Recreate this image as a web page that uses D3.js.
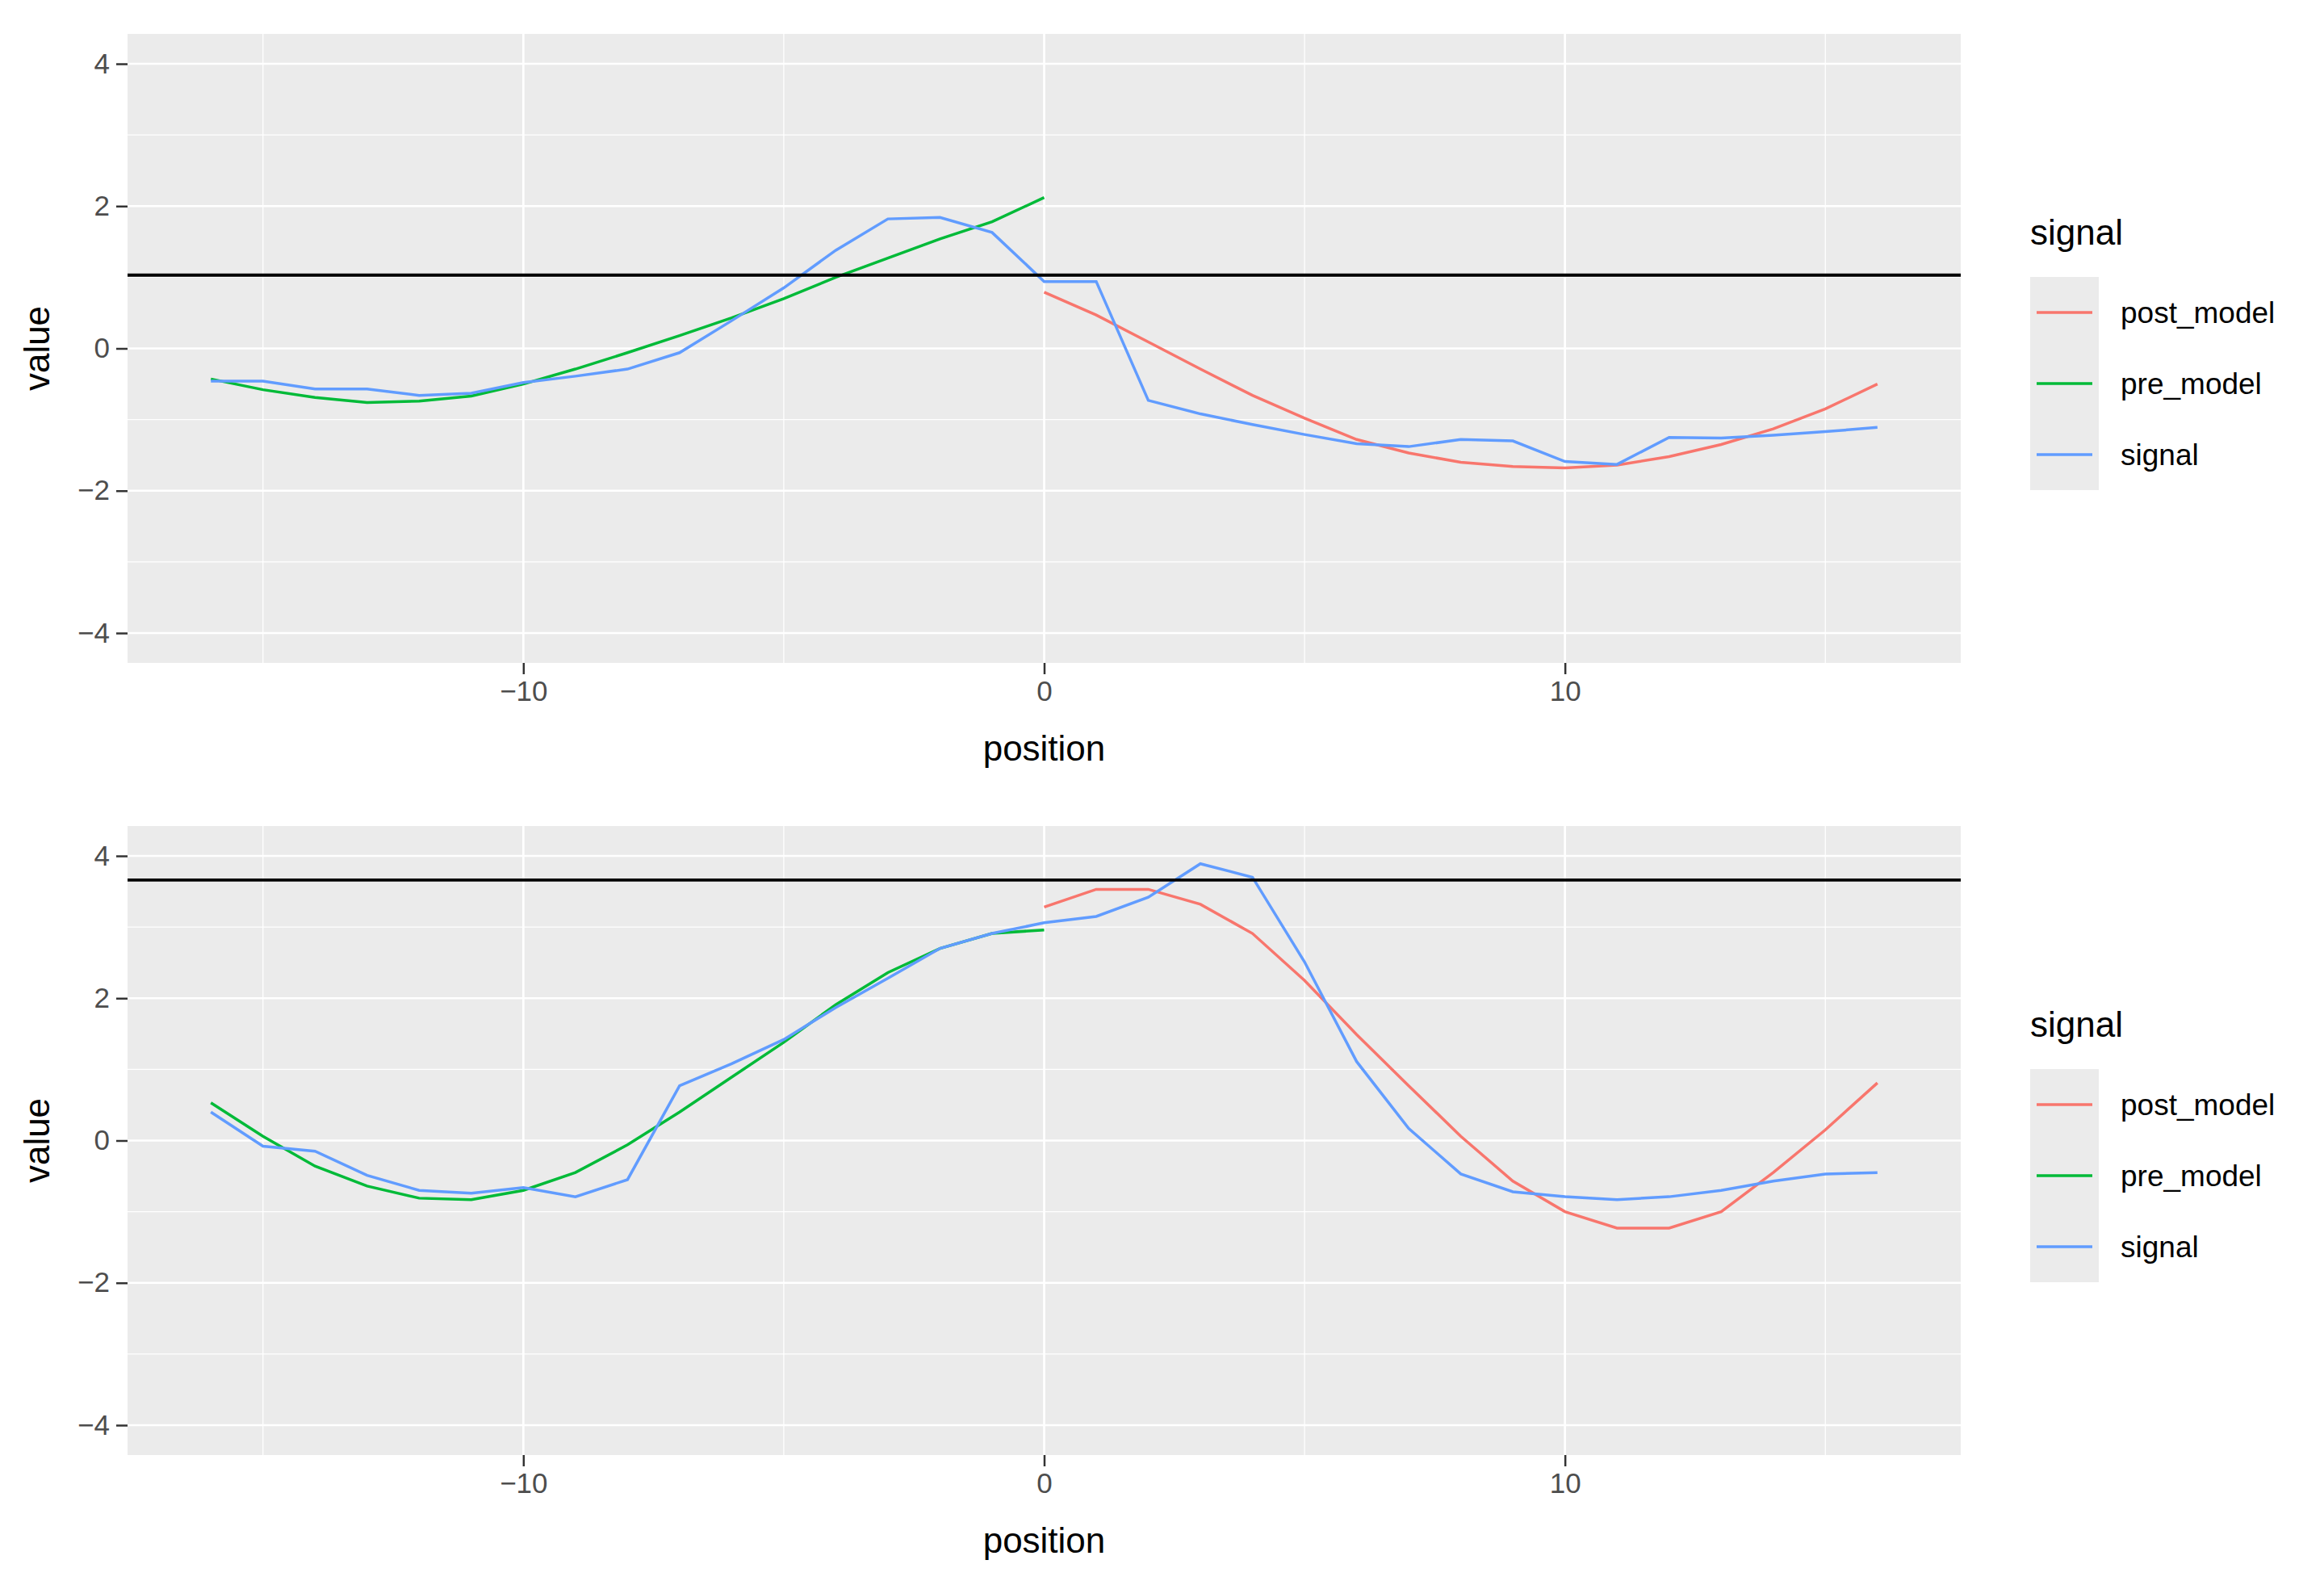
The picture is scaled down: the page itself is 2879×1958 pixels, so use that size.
<!DOCTYPE html>
<html>
<head>
<meta charset="utf-8">
<style>
  body { margin: 0; background: #fff; }
  text { font-family: "Liberation Sans", Arial, sans-serif; }
</style>
<script src="https://d3js.org/d3.v7.min.js"></script>
</head>
<body>
<svg id="chart" width="2879" height="1958"></svg>
<script>
// positions
var prePos = d3.range(-16, 1);
var postPos = d3.range(0, 17);
var sigPos = d3.range(-16, 17);

// panel 1
var pre1 = [-0.43,-0.58,-0.69,-0.76,-0.74,-0.67,-0.50,-0.29,-0.06,0.18,0.43,0.70,1.00,1.27,1.54,1.78,2.12];
var post1 = [0.79,0.47,0.09,-0.29,-0.66,-0.98,-1.28,-1.47,-1.60,-1.66,-1.68,-1.64,-1.52,-1.35,-1.13,-0.85,-0.50];
var sig1 = [-0.46,-0.46,-0.57,-0.57,-0.66,-0.63,-0.48,-0.39,-0.29,-0.06,0.39,0.85,1.38,1.82,1.84,1.63,0.94,
            0.94,-0.73,-0.92,-1.07,-1.21,-1.34,-1.38,-1.28,-1.30,-1.59,-1.63,-1.25,-1.26,-1.22,-1.17,-1.11];
var thresh1 = 1.03;

// panel 2
var pre2 = [0.53,0.06,-0.36,-0.64,-0.81,-0.83,-0.70,-0.45,-0.06,0.40,0.89,1.38,1.91,2.36,2.70,2.91,2.96];
var post2 = [3.28,3.53,3.53,3.32,2.91,2.25,1.49,0.77,0.06,-0.57,-1.00,-1.23,-1.23,-1.00,-0.45,0.15,0.81];
var sig2 = [0.40,-0.08,-0.15,-0.49,-0.70,-0.74,-0.66,-0.79,-0.55,0.77,1.08,1.42,1.87,2.28,2.70,2.91,3.06,
            3.15,3.42,3.89,3.70,2.51,1.11,0.17,-0.47,-0.72,-0.79,-0.83,-0.79,-0.70,-0.57,-0.47,-0.45];
var thresh2 = 3.66;

var seriesNames = ["post_model", "pre_model", "signal"];
var seriesColors = ["#F8766D", "#00BA38", "#619CFF"];
var xTicks = [-10, 0, 10];
var yTicks = [-4, -2, 0, 2, 4];

var svg = d3.select("#chart");
var L = 158, R = 2429, panelH = 779;

function drawPanel(top, pre, post, sig, thresh) {
  var x = d3.scaleLinear().domain([-17.6, 17.6]).range([L, R]);
  var y = d3.scaleLinear().domain([-4.42, 4.42]).range([top + panelH, top]);
  var g = svg.append("g");

  g.append("rect").attr("x", L).attr("y", top).attr("width", R - L).attr("height", panelH).attr("fill", "#EBEBEB");

  [-15, -5, 5, 15].forEach(function (v) {
    g.append("line").attr("x1", x(v)).attr("x2", x(v)).attr("y1", top).attr("y2", top + panelH)
      .attr("stroke", "#fff").attr("stroke-width", 1.3);
  });
  [-3, -1, 1, 3].forEach(function (v) {
    g.append("line").attr("x1", L).attr("x2", R).attr("y1", y(v)).attr("y2", y(v))
      .attr("stroke", "#fff").attr("stroke-width", 1.3);
  });
  xTicks.forEach(function (v) {
    g.append("line").attr("x1", x(v)).attr("x2", x(v)).attr("y1", top).attr("y2", top + panelH)
      .attr("stroke", "#fff").attr("stroke-width", 2.7);
  });
  yTicks.forEach(function (v) {
    g.append("line").attr("x1", L).attr("x2", R).attr("y1", y(v)).attr("y2", y(v))
      .attr("stroke", "#fff").attr("stroke-width", 2.7);
  });

  var line = d3.line().x(function (d) { return x(d[0]); }).y(function (d) { return y(d[1]); });
  var data = [
    [post, postPos, seriesColors[0]],
    [pre, prePos, seriesColors[1]],
    [sig, sigPos, seriesColors[2]]
  ];
  data.forEach(function (s) {
    g.append("path").datum(d3.zip(s[1], s[0])).attr("d", line)
      .attr("fill", "none").attr("stroke", s[2]).attr("stroke-width", 3.5);
  });

  g.append("line").attr("x1", L).attr("x2", R).attr("y1", y(thresh)).attr("y2", y(thresh))
    .attr("stroke", "#000").attr("stroke-width", 3.8);

  // axes
  var fmt = function (d) { return d < 0 ? "\u2212" + (-d) : d; };
  var yAxis = g.append("g").attr("transform", "translate(" + L + ",0)")
    .call(d3.axisLeft(y).tickValues(yTicks).tickSize(14).tickPadding(8).tickFormat(fmt));
  var xAxis = g.append("g").attr("transform", "translate(0," + (top + panelH) + ")")
    .call(d3.axisBottom(x).tickValues(xTicks).tickSize(14).tickPadding(8).tickFormat(fmt));
  [yAxis, xAxis].forEach(function (a) {
    a.select(".domain").remove();
    a.selectAll("line").attr("stroke", "#333").attr("stroke-width", 2.5);
    a.selectAll("text").attr("fill", "#4D4D4D").style("font-size", "35px")
      .style("font-family", "'Liberation Sans', Arial, sans-serif");
  });

  g.append("text").attr("x", (L + R) / 2).attr("y", top + panelH + 121).attr("text-anchor", "middle")
    .style("font-size", "44px").text("position");
  g.append("text").attr("transform", "translate(61," + (top + panelH / 2) + ") rotate(-90)")
    .attr("text-anchor", "middle").style("font-size", "44px").text("value");

  // legend
  var lg = g.append("g");
  lg.append("text").attr("x", 2515).attr("y", top + 261).style("font-size", "44px").text("signal");
  lg.append("rect").attr("x", 2515).attr("y", top + 301).attr("width", 85).attr("height", 264).attr("fill", "#EBEBEB");
  seriesNames.forEach(function (n, i) {
    var cy = top + 345 + i * 88;
    lg.append("line").attr("x1", 2523).attr("x2", 2592).attr("y1", cy).attr("y2", cy)
      .attr("stroke", seriesColors[i]).attr("stroke-width", 3.5);
    lg.append("text").attr("x", 2627).attr("y", cy + 13).style("font-size", "37px").text(n);
  });
}

drawPanel(42, pre1, post1, sig1, thresh1);
drawPanel(1023, pre2, post2, sig2, thresh2);
</script>
</body>
</html>
